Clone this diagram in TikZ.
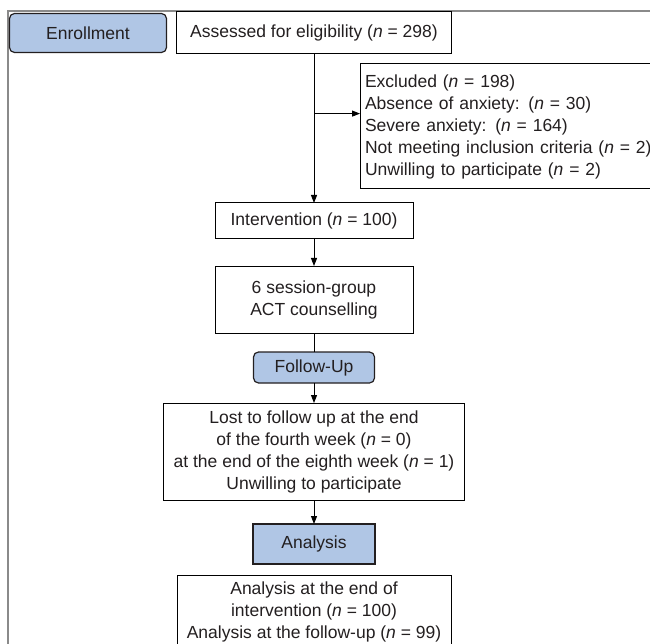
\documentclass[tikz,border=0pt]{standalone}
\usepackage{fontspec}
\setmainfont{Liberation Sans}
\usepackage{tikz}
\usetikzlibrary{arrows.meta, positioning, calc}
\definecolor{phaseblue}{HTML}{B0C6E5}
\definecolor{inkgray}{HTML}{231F20}
\definecolor{framegray}{HTML}{8A8A8A}
\tikzstyle{phasebox} = [rectangle, rounded corners=5pt, draw=inkgray, fill=phaseblue, text=inkgray,
  font=\fontsize{17.5}{22}\selectfont, line width=1.2pt, outer sep=0pt, inner sep=0pt]
\tikzstyle{stepbox} = [rectangle, draw=black, fill=white, text=inkgray, align=center,
  font=\fontsize{17.5}{22}\selectfont, line width=1pt, outer sep=0pt, inner sep=0pt]
\tikzstyle{arrow} = [line width=1pt, -{Triangle[length=8pt,width=6pt]}]
\tikzstyle{frameline} = [line width=1.6pt, draw=framegray]
\newcommand{\nn}{\textit{n}}

\begin{document}
\begin{tikzpicture}[x=1pt, y=-1pt]
  \useasboundingbox (0,0) rectangle (650,644);
  \draw[frameline] (8,660) -- (8,11) -- (660,11);

  \node (assess) [stepbox, minimum width=275pt, minimum height=42pt] at (314,33) {Assessed for eligibility (\nn{} = 298)};
  \node (enroll) [phasebox, minimum width=157pt, minimum height=39pt, left=10pt of assess] {Enrollment};
  \node (excl)   [stepbox, anchor=west, minimum height=125pt, text width=320pt, align=left, inner xsep=5pt] at (360,126.5)
    {Excluded (\nn{} = 198)\\Absence of anxiety: (\nn{} = 30)\\Severe anxiety: (\nn{} = 164)\\Not meeting inclusion criteria (\nn{} = 2)\\Unwilling to participate (\nn{} = 2)};
  \node (interv) [stepbox, minimum width=198pt, minimum height=36pt, below=149pt of assess] {Intervention (\nn{} = 100)};
  \node (act)    [stepbox, minimum width=198pt, minimum height=67pt, below=27pt of interv] {6 session-group\\ACT counselling};
  \node (follow) [phasebox, minimum width=121pt, minimum height=31pt, below=19pt of act] {Follow-Up};
  \node (lost)   [stepbox, minimum width=301pt, minimum height=97pt, below=20pt of follow]
    {Lost to follow up at the end\\of the fourth week (\nn{} = 0)\\at the end of the eighth week (\nn{} = 1)\\Unwilling to participate};
  \node (anal)   [phasebox, sharp corners, minimum width=122pt, minimum height=40pt, below=24pt of lost] {Analysis};
  \node (final)  [stepbox, minimum width=274pt, minimum height=74pt, below=11pt of anal]
    {Analysis at the end of\\intervention (\nn{} = 100)\\Analysis at the follow-up (\nn{} = 99)};

  \coordinate (split) at ($(assess.south)!0.4!(interv.north)$);
  \draw[arrow] (assess.south) -- (interv.north);
  \draw[arrow] (split) -- (split -| excl.west);
  \draw[arrow] (interv) -- (act);
  \draw[line width=1pt] (act) -- (follow);
  \draw[arrow] (follow) -- (lost);
  \draw[arrow] (lost) -- (anal);
\end{tikzpicture}
\end{document}
